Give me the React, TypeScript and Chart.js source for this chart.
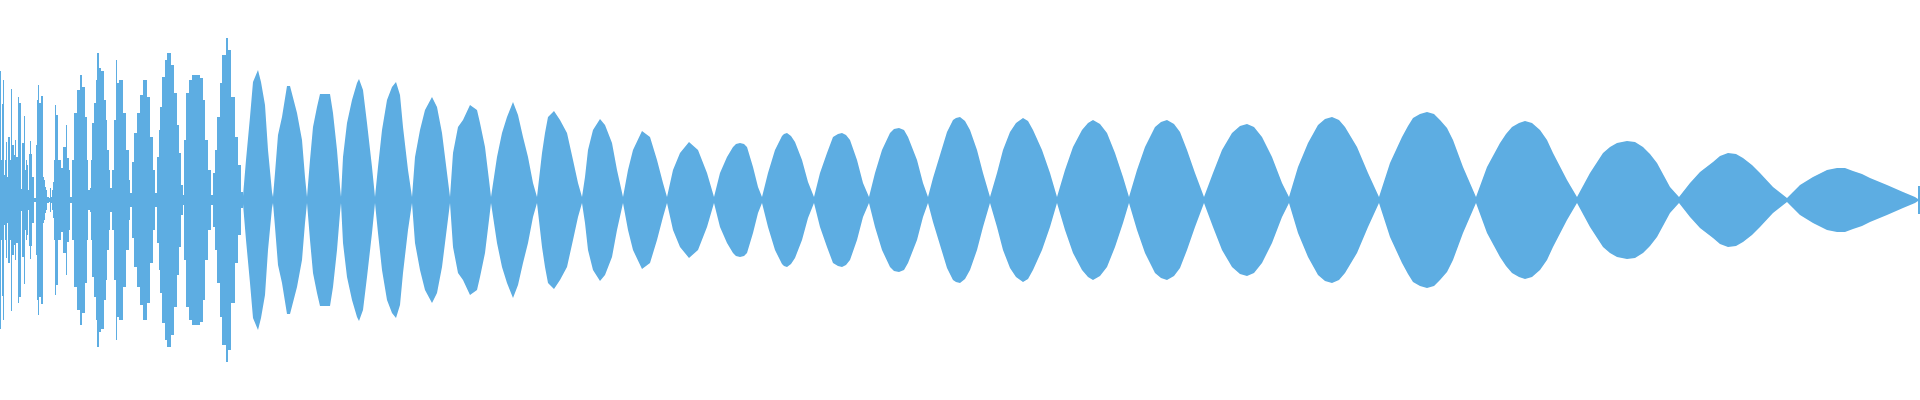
import { useEffect, useRef } from "react";
import { Chart, registerables } from "chart.js";

Chart.register(...registerables);

const WAVE_COLOR = "#5DADE2";

// Onset (noisy attack) region: sample index where each column starts, and its peak amplitude
const onsetTime = [
  0, 1, 2, 3, 4, 5, 6, 7, 8, 10, 11, 12, 14, 15, 16, 18, 19, 21, 22, 24, 25, 26, 27, 28, 29, 30, 31, 32, 34, 36,
  37, 38, 39, 41, 43, 44, 45, 46, 47, 49, 50, 51, 52, 53, 54, 55, 56, 58, 61, 63, 66, 67, 69, 70, 72, 74, 77, 80,
  82, 85, 87, 88, 90, 91, 92, 94, 96, 97, 99, 101, 104, 106, 107, 109, 110, 112, 114, 116, 117, 119, 123, 126, 129,
  130, 132, 134, 137, 140, 143, 147, 150, 153, 155, 157, 159, 160, 162, 165, 167, 171, 174, 177, 179, 181, 183, 184,
  186, 189, 192, 200, 203, 205, 208, 211, 213, 215, 217, 220, 222, 226, 228, 231, 235, 238, 241, 243,
];
const onsetPeak = [
  129, 40, 96, 120, 25, 40, 58, 23, 63, 40, 111, 55, 45, 60, 43, 103, 97, 11, 57, 84, 30, 40, 35, 10, 46, 59, 46, 23, 2, 55,
  100, 115, 97, 104, 23, 20, 13, 10, 3, 2, 12, 3, 10, 18, 40, 95, 85, 40, 32, 53, 75, 42, 30, 3, 40, 87, 110, 125,
  113, 83, 40, 10, 12, 40, 77, 97, 120, 147, 132, 129, 100, 80, 50, 30, 12, 30, 80, 140, 117, 120, 87, 50, 20,
  7, 38, 67, 87, 105, 120, 103, 63, 30, 7, 43, 70, 93, 123, 140, 147, 135, 107, 75, 47, 15, 5, 60,
  107, 120, 125, 122, 100, 60, 30, 5, 27, 50, 83, 117, 145, 162, 150, 103, 63, 35, 8, 4,
];

// Sustain (beating) region: sample index and peak amplitude envelope
const sustainTime = [
  243, 246, 250, 253, 258, 261, 265, 268, 272, 273,
  275, 278, 282, 287, 290, 297, 302, 305, 307,
  310, 313, 317, 320, 330, 333, 337, 340, 341,
  343, 347, 352, 357, 359, 363, 367, 372, 375,
  378, 382, 387, 392, 396, 400, 403, 408, 412,
  415, 420, 425, 432, 437, 442, 447, 450,
  453, 458, 463, 470, 477, 480, 485, 489, 491,
  497, 502, 507, 513, 518, 523, 528, 533, 537,
  542, 545, 548, 554, 560, 567, 573, 578, 582,
  585, 588, 593, 600, 605, 612, 617, 623,
  628, 633, 642, 650, 657, 663, 667,
  673, 680, 689, 698, 707, 714,
  720, 727, 733, 736, 740, 744, 747, 753, 758, 762,
  768, 775, 782, 784, 787, 791, 795, 802, 808, 814,
  820, 827, 833, 838, 842, 846, 850, 857, 863, 869,
  875, 882, 890, 894, 899, 904, 908, 917, 923, 928,
  933, 940, 947, 953, 956, 960, 965, 970, 977, 983, 990,
  997, 1003, 1010, 1016, 1023, 1028, 1033, 1042, 1050, 1057,
  1065, 1073, 1082, 1088, 1093, 1100, 1107, 1115, 1123, 1129,
  1137, 1145, 1155, 1161, 1167, 1174, 1180, 1187, 1195, 1204,
  1213, 1222, 1232, 1240, 1247, 1254, 1262, 1272, 1282, 1289,
  1298, 1308, 1318, 1325, 1332, 1339, 1345, 1357, 1368, 1379,
  1390, 1402, 1408, 1413, 1420, 1427, 1434, 1440, 1447, 1453, 1463, 1476,
  1487, 1500, 1506, 1512, 1519, 1525, 1532, 1540, 1547, 1553, 1567, 1577,
  1590, 1603, 1610, 1617, 1622, 1627, 1635, 1643, 1650, 1657, 1670, 1679,
  1690, 1700, 1713, 1720, 1728, 1736, 1743, 1752, 1760, 1773, 1787,
  1800, 1813, 1827, 1837, 1845, 1853, 1862, 1870, 1887, 1903, 1915, 1918,
];
const sustainPeak = [
  4, 40, 83, 118, 130, 118, 95, 50, 8, 3,
  27, 65, 83, 114, 114, 87, 60, 23, 3,
  40, 73, 93, 106, 106, 87, 50, 13, 3,
  43, 77, 100, 117, 121, 110, 77, 33, 3,
  33, 70, 100, 113, 118, 105, 73, 30, 3,
  43, 70, 90, 103, 93, 67, 27, 3,
  47, 73, 80, 95, 90, 77, 53, 20, 3,
  43, 67, 83, 98, 85, 63, 43, 17, 3,
  47, 67, 83, 89, 80, 67, 40, 17, 3,
  23, 50, 70, 81, 75, 57, 30, 3,
  30, 50, 69, 63, 40, 17, 3,
  30, 47, 58, 50, 27, 3,
  27, 43, 53, 56, 57, 56, 53, 33, 13, 3,
  27, 50, 64, 66, 67, 64, 58, 40, 18, 3,
  27, 47, 63, 66, 67, 65, 60, 40, 17, 3,
  27, 50, 67, 71, 72, 70, 63, 40, 17, 3,
  22, 45, 68, 80, 82, 83, 79, 70, 50, 27, 3,
  27, 50, 68, 77, 82, 79, 70, 50, 27, 3,
  30, 53, 70, 77, 80, 76, 67, 47, 23, 3,
  30, 53, 73, 78, 80, 76, 68, 50, 27, 3,
  27, 50, 67, 74, 76, 73, 63, 43, 17, 3,
  33, 57, 75, 81, 83, 80, 73, 53, 27, 3,
  37, 63, 74, 82, 86, 88, 86, 80, 72, 60, 33, 3,
  33, 57, 66, 73, 77, 79, 77, 70, 60, 47, 20, 3,
  27, 47, 53, 57, 58, 59, 58, 53, 46, 37, 13, 3,
  17, 28, 38, 44, 47, 46, 42, 35, 27, 13, 2,
  15, 23, 30, 32, 32, 29, 26, 22, 15, 8, 3, 1,
];

// Final clipped sample column at the very end of the recording
const tailTime = [1918, 1920];
const tailPeak = [14, 14];

export default function App() {
  const canvasRef = useRef<HTMLCanvasElement | null>(null);

  useEffect(() => {
    document.body.style.margin = "0";
    const canvas = canvasRef.current;
    if (!canvas) return;

    const upper = (t: number[], p: number[]) => t.map((x, i) => ({ x, y: p[i] }));
    const lower = (t: number[], p: number[]) => t.map((x, i) => ({ x, y: -p[i] }));

    const common = {
      borderColor: "rgba(0,0,0,0)",
      borderWidth: 0,
      pointRadius: 0,
      pointHoverRadius: 0,
      backgroundColor: WAVE_COLOR,
      fill: "origin" as const,
      tension: 0,
    };

    const chart = new Chart(canvas, {
      type: "line",
      data: {
        datasets: [
          { ...common, data: upper(onsetTime, onsetPeak), stepped: true },
          { ...common, data: lower(onsetTime, onsetPeak), stepped: true },
          { ...common, data: upper(sustainTime, sustainPeak) },
          { ...common, data: lower(sustainTime, sustainPeak) },
          { ...common, data: upper(tailTime, tailPeak), stepped: true },
          { ...common, data: lower(tailTime, tailPeak), stepped: true },
        ],
      },
      options: {
        animation: false,
        responsive: false,
        events: [],
        layout: { padding: 0 },
        plugins: {
          legend: { display: false },
          tooltip: { enabled: false },
        },
        scales: {
          x: { type: "linear", min: 0, max: 1920, display: false },
          y: { min: -200, max: 200, display: false },
        },
      },
    });

    return () => {
      chart.destroy();
    };
  }, []);

  return (
    <div style={{ width: 1920, height: 400 }}>
      <canvas ref={canvasRef} width={1920} height={400} style={{ display: "block" }} />
    </div>
  );
}
